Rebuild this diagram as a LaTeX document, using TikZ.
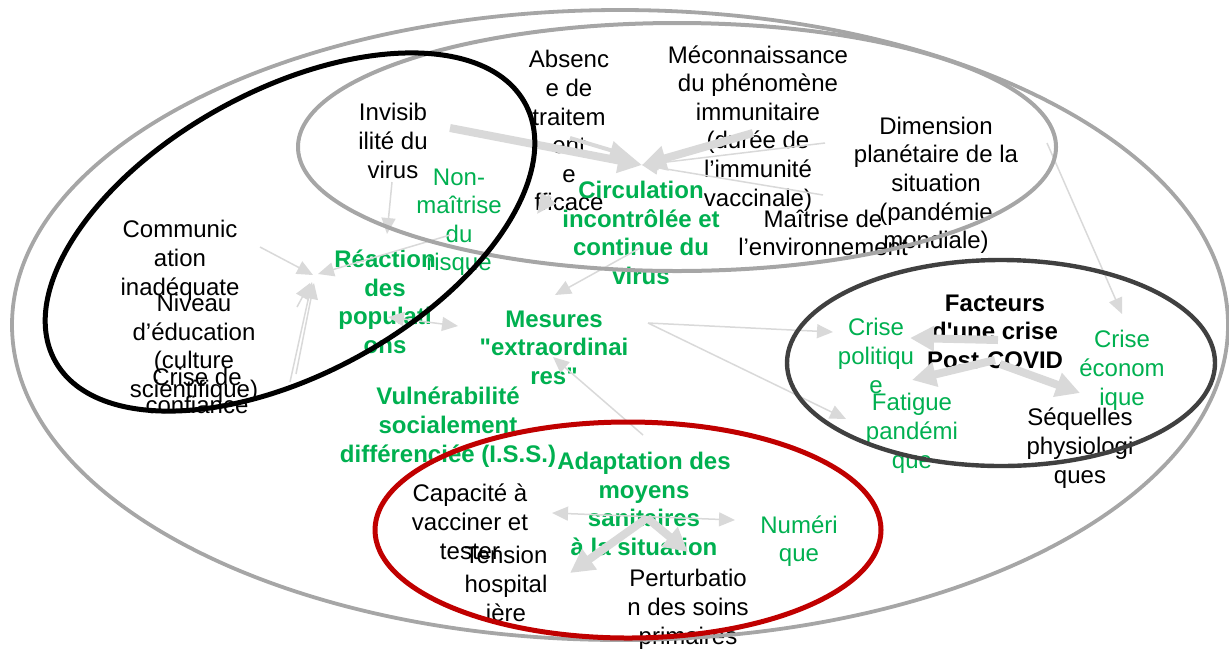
\documentclass[tikz,border=0pt]{standalone}
\usepackage{fontspec}
\setmainfont{Liberation Sans}
\usetikzlibrary{arrows.meta}
\definecolor{vert}{HTML}{00B050}
\definecolor{grisfleche}{HTML}{D9D9D9}
\definecolor{grisellipse}{HTML}{A6A6A6}
\definecolor{rouge}{HTML}{C00000}
\definecolor{grisfonce}{HTML}{404040}

\begin{document}
\begin{tikzpicture}[x=0.5pt,y=-0.5pt,
  txt/.style={align=center,inner sep=0pt,font=\fontsize{12}{14.3}\selectfont,
    execute at begin node=\strut,execute at end node=\strut},
  txtvert/.style={txt,text=vert},
  txtgras/.style={txt,text=vert,font=\fontsize{12}{14.3}\selectfont\bfseries},
  fleche/.style={draw=grisfleche,line width=0.75pt,-{Triangle[length=8pt,width=7pt]}},
  flechedouble/.style={draw=grisfleche,line width=0.75pt,
    {Triangle[length=8pt,width=7pt]}-{Triangle[length=8pt,width=7pt]}},
  flechemoy/.style={draw=grisfleche,line width=2pt,-{Triangle[length=10pt,width=9pt]}},
  flechegrosse/.style={draw=grisfleche,line width=4pt,-{Triangle[length=12pt,width=12pt]}}]
\useasboundingbox (0,0) rectangle (1229,649);

\node[txt] (invis) at (393,145) {Invisib\\ilité du\\virus};
\node[txt] (absence) at (569,135) {Absenc\\e de\\traitem\\ent\\e\\fficace};
\node[txt] (mecon) at (758,130) {Méconnaissance\\du phénomène\\immunitaire\\(durée de\\l’immunité\\vaccinale)};
\node[txt] (dimension) at (936,187) {Dimension\\planétaire de la\\situation\\(pandémie\\mondiale)};
\node[txt] (maitrise) at (823,237) {Maîtrise de\\l’environnement};
\node[txtvert] (nonmaitrise) at (459,224) {Non-\\maîtrise\\du\\risque};
\node[txtgras] (circulation) at (641,237) {Circulation\\incontrôlée et\\continue du\\virus};
\node[txt] (communication) at (180,262) {Communic\\ation\\inadéquate};
\node[txtgras] (reaction) at (385,306) {Réaction\\des\\populati\\ons};
\node[txt] (niveau) at (194,350) {Niveau\\d’éducation\\(culture\\scientifique)};
\node[txt] (confiance) at (197,395) {Crise de\\confiance};
\node[txtgras] (mesures) at (554,352) {Mesures\\\textquotedbl extraordinai\\res\textquotedbl};
\node[txtgras] (vulnerabilite) at (448,429) {Vulnérabilité\\socialement\\différenciée (I.S.S.)};
\node[txtgras] (adaptation) at (644,508) {Adaptation des\\moyens\\sanitaires\\à la situation};
\node[txt] (capacite) at (470,526) {Capacité à\\vacciner et\\tester};
\node[txt] (tension) at (506,588) {Tension\\hospital\\ière};
\node[txt] (perturbation) at (688,611) {Perturbatio\\n des soins\\primaires};
\node[txtvert] (numerique) at (799,543) {Numéri\\que};
\node[txt,font=\fontsize{12}{14.3}\selectfont\bfseries] (facteurs) at (995,336) {Facteurs\\d\textquotesingle une crise\\Post-COVID};
\node[txtvert] (politique) at (876,360) {Crise\\politiqu\\e};
\node[txtvert] (economique) at (1122,372) {Crise\\économ\\ique};
\node[txtvert] (fatigue) at (912,435) {Fatigue\\pandémi\\que};
\node[txt] (sequelles) at (1080,450) {Séquelles\\physiologi\\ques};

\coordinate (circ-in) at (642,165);
\coordinate (invis-out) at (450,128);
\coordinate (abs-out) at (570,138);
\coordinate (abs-in) at (630,156);
\coordinate (mecon-out) at (753,133);
\coordinate (dim-out) at (825,143);
\coordinate (maitr-out) at (823,195);
\coordinate (circ-out) at (640,248);
\coordinate (mes-in) at (555,295);
\coordinate (abs-bas) at (550,196);
\coordinate (abs-pointe) at (537,214);
\coordinate (invis-bas) at (392,182);
\coordinate (reac-haut) at (387,234);
\coordinate (comm-out) at (260,247);
\coordinate (reac-g) at (313,275);
\coordinate (nonm-out) at (450,235);
\coordinate (reac-g2) at (318,274);
\coordinate (niv-out) at (297,307);
\coordinate (reac-g3) at (310,283);
\coordinate (conf-out) at (290,382);
\coordinate (reac-g4) at (312,282);
\coordinate (sci-out) at (296,374);
\coordinate (reac-g5) at (314,283);
\coordinate (reac-d) at (388,317);
\coordinate (mes-g) at (458,326);
\coordinate (adapt-haut) at (643,435);
\coordinate (mes-bas) at (553,357);
\coordinate (mes-d) at (648,323);
\coordinate (pol-g) at (833,332);
\coordinate (fat-g) at (846,419);
\coordinate (dim-bas) at (1047,143);
\coordinate (eco-haut) at (1122,314);
\coordinate (fact-c) at (998,340);
\coordinate (pol-d) at (910,338);
\coordinate (fact-b) at (995,360);
\coordinate (fat-d) at (912,380);
\coordinate (fact-b2) at (1000,364);
\coordinate (seq-h) at (1080,393);
\coordinate (adapt-c) at (647,518);
\coordinate (tens-h) at (570,573);
\coordinate (pert-h) at (688,552);
\coordinate (cap-d) at (552,513);
\coordinate (num-g) at (735,520);

\draw[fleche] (dim-out) -- (circ-in);
\draw[fleche] (maitr-out) -- (circ-in);
\draw[flechemoy] (abs-out) -- (abs-in);
\draw[flechegrosse] (invis-out) -- (circ-in);
\draw[flechegrosse] (mecon-out) -- (circ-in);
\draw[fleche] (circ-out) -- (mes-in);
\draw[flechemoy] (abs-bas) -- (abs-pointe);
\draw[fleche] (invis-bas) -- (reac-haut);
\draw[fleche] (comm-out) -- (reac-g);
\draw[fleche] (nonm-out) -- (reac-g2);
\draw[fleche] (niv-out) -- (reac-g3);
\draw[fleche] (conf-out) -- (reac-g4);
\draw[fleche] (sci-out) -- (reac-g5);
\draw[flechedouble] (reac-d) -- (mes-g);
\draw[fleche] (adapt-haut) -- (mes-bas);
\draw[fleche] (mes-d) -- (pol-g);
\draw[fleche] (mes-d) -- (fat-g);
\draw[fleche] (dim-bas) -- (eco-haut);
\draw[flechegrosse] (fact-c) -- (pol-d);
\draw[flechegrosse] (fact-b) -- (fat-d);
\draw[flechegrosse] (fact-b2) -- (seq-h);
\draw[flechedouble] (cap-d) -- (num-g);
\draw[flechegrosse] (adapt-c) -- (tens-h);
\draw[flechegrosse] (adapt-c) -- (pert-h);

\draw[grisellipse,line width=1.9pt] (620,325) ellipse (304pt and 157.5pt);
\draw[grisellipse,line width=2pt] (677,147) ellipse (189.5pt and 62pt);
\draw[black,line width=2.5pt,rotate around={28.7:(290,232)}] (290,232) ellipse (134pt and 71pt);
\draw[rouge,line width=2.5pt] (628,530) ellipse (126.5pt and 54pt);
\draw[grisfonce,line width=2.2pt] (1001,363) ellipse (107pt and 51.5pt);
\end{tikzpicture}
\end{document}
